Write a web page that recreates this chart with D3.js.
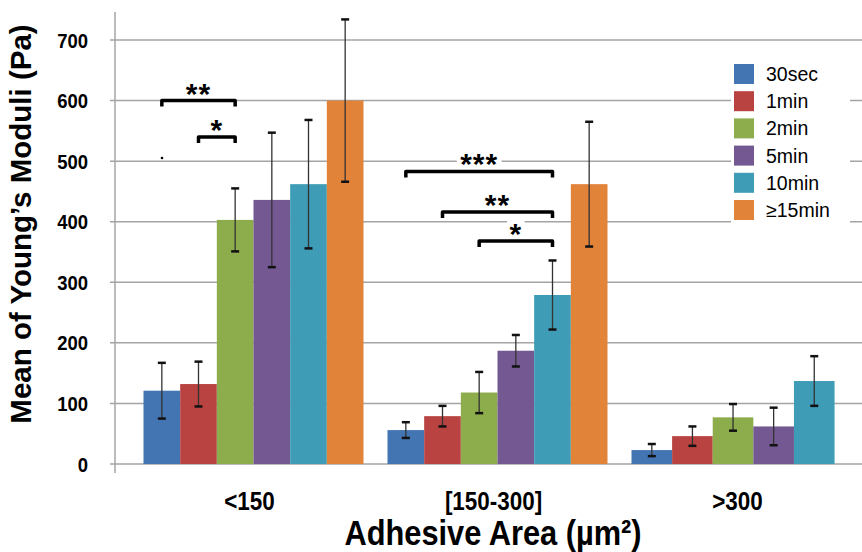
<!DOCTYPE html>
<html>
<head>
<meta charset="utf-8">
<script src="https://cdn.jsdelivr.net/npm/d3@7"></script>
<style>
  body { margin: 0; background: #fff; }
  svg { display: block; font-family: "Liberation Sans", Arial, sans-serif; }
</style>
</head>
<body>
<svg id="chart" width="862" height="552"></svg>
<script>
// categories and series
var groups = ["<150", "[150-300]", ">300"];
var series = ["30sec", "1min", "2min", "5min", "10min", "≥15min"];
var colors = ["#4375b3", "#b84341", "#8dac4b", "#735892", "#3f9cb6", "#e18339"];

// means and error (Pa), one array per adhesive area group
var meansLt150 = [121, 132, 403, 436, 462, 600];
var errLt150 = [46, 37, 52, 111, 106, 134];
var means150to300 = [56, 79, 118, 187, 279, 462];
var err150to300 = [13, 17, 34, 26, 57, 103];
var meansGt300 = [23, 46, 77, 62, 137, null];
var errGt300 = [10, 16, 22, 31, 41, null];

var yTicks = [0, 100, 200, 300, 400, 500, 600, 700];

// significance brackets
var sigGroups = ["<150", "<150", "[150-300]", "[150-300]", "[150-300]"];
var sigFrom = ["30sec", "1min", "30sec", "1min", "2min"];
var sigTo = ["2min", "2min", "10min", "10min", "10min"];
var sigLevel = [600, 540, 483, 416, 368];
var sigLabel = ["**", "*", "***", "**", "*"];

var allMeans = [meansLt150, means150to300, meansGt300];
var allErr = [errLt150, err150to300, errGt300];

var dims = { width: 862, height: 552, left: 115, top: 40, bottom: 464 };
var squish = 0.88;
// share of the group band the bars fill (last cluster has 5 wider bars)
var clusterFill = [1, 1, 0.923];

var svg = d3.select("#chart");

var yScale = d3.scaleLinear().domain([0, 700]).range([dims.bottom, dims.top]);
var x0 = d3.scaleBand().domain(groups).range([131.5, 863.5]).padding(0);

// one inner scale per group, over the series that have a value there
var inner = groups.map(function (g, gi) {
  var present = series.filter(function (s, si) { return allMeans[gi][si] !== null; });
  var w = (x0.bandwidth() - 24) * clusterFill[gi];
  return d3.scaleBand().domain(present).range([12, 12 + w]).padding(0);
});

var dataset = [];
groups.forEach(function (g, gi) {
  series.forEach(function (s, si) {
    if (allMeans[gi][si] !== null) {
      dataset.push({ gi: gi, group: g, series: s, value: allMeans[gi][si], err: allErr[gi][si], color: colors[si] });
    }
  });
});

function barX(gi, s) {
  return x0(groups[gi]) + inner[gi](s);
}
function cx(gi, s) {
  return barX(gi, s) + inner[gi].bandwidth() / 2;
}

// gridlines
svg.append("g")
  .selectAll("line")
  .data(yTicks)
  .enter()
  .append("line")
  .attr("x1", dims.left - 5)
  .attr("x2", dims.width)
  .attr("y1", function (d) { return yScale(d); })
  .attr("y2", function (d) { return yScale(d); })
  .attr("stroke", "#a4a4a4")
  .attr("stroke-width", 1.5);

// y axis line
svg.append("line")
  .attr("x1", dims.left).attr("x2", dims.left)
  .attr("y1", 12).attr("y2", dims.bottom + 9)
  .attr("stroke", "#a4a4a4")
  .attr("stroke-width", 1.5);

// y tick labels
svg.append("g")
  .selectAll("text")
  .data(yTicks)
  .enter()
  .append("text")
  .attr("transform", function (d) {
    return "translate(88," + (yScale(d) + 7.5) + ") scale(" + squish + ",1)";
  })
  .attr("text-anchor", "end")
  .style("font-weight", "bold")
  .style("font-size", "21px")
  .text(function (d) { return d; });

// legend (white box over gridlines)
var legend = svg.append("g");
legend.append("rect")
  .attr("x", 731).attr("y", 56)
  .attr("width", 119).attr("height", 168)
  .attr("fill", "#fff");
var items = legend.selectAll(".item")
  .data(series)
  .enter()
  .append("g")
  .attr("class", "item")
  .attr("transform", function (d, i) { return "translate(734," + (64 + i * 27.2) + ")"; });
items.append("rect")
  .attr("width", 20).attr("height", 20)
  .attr("fill", function (d, i) { return colors[i]; });
items.append("text")
  .attr("x", 32).attr("y", 17)
  .style("font-size", "19.5px")
  .text(function (d) { return d; });

// bars
svg.append("g")
  .selectAll("rect")
  .data(dataset)
  .enter()
  .append("rect")
  .attr("x", function (d) { return barX(d.gi, d.series); })
  .attr("width", function (d) { return inner[d.gi].bandwidth(); })
  .attr("y", function (d) { return yScale(d.value); })
  .attr("height", function (d) { return yScale(0) - yScale(d.value); })
  .attr("fill", function (d) { return d.color; });

// error bars
var eb = svg.append("g").selectAll("g").data(dataset).enter().append("g");
eb.append("line")
  .attr("x1", function (d) { return cx(d.gi, d.series); })
  .attr("x2", function (d) { return cx(d.gi, d.series); })
  .attr("y1", function (d) { return yScale(d.value + d.err); })
  .attr("y2", function (d) { return yScale(d.value - d.err); })
  .attr("stroke", "#333")
  .attr("stroke-width", 1.3);
[1, -1].forEach(function (sign) {
  eb.append("line")
    .attr("x1", function (d) { return cx(d.gi, d.series) - 4; })
    .attr("x2", function (d) { return cx(d.gi, d.series) + 4; })
    .attr("y1", function (d) { return yScale(d.value + sign * d.err); })
    .attr("y2", function (d) { return yScale(d.value + sign * d.err); })
    .attr("stroke", "#111")
    .attr("stroke-width", 2.5);
});

// significance brackets
var sigs = sigLabel.map(function (lab, i) {
  var gi = groups.indexOf(sigGroups[i]);
  return {
    xa: cx(gi, sigFrom[i]),
    xb: cx(gi, sigTo[i]),
    y: yScale(sigLevel[i]),
    label: lab,
  };
});
var sg = svg.append("g").selectAll("g").data(sigs).enter().append("g");
sg.append("path")
  .attr("d", function (d) {
    return "M" + d.xa + "," + (d.y + 6) + "V" + d.y + "H" + d.xb + "V" + (d.y + 6);
  })
  .attr("fill", "none")
  .attr("stroke", "#000")
  .attr("stroke-width", 3.5)
  .attr("stroke-linejoin", "round");
sg.append("rect")
  .attr("x", function (d) { return (d.xa + d.xb) / 2 - d.label.length * 6.8 - 2; })
  .attr("y", function (d) { return d.y - 23; })
  .attr("width", function (d) { return d.label.length * 13.6 + 4; })
  .attr("height", 14)
  .attr("fill", "#fff");
sg.append("text")
  .attr("x", function (d) { return (d.xa + d.xb) / 2; })
  .attr("y", function (d) { return d.y + 3; })
  .attr("text-anchor", "middle")
  .style("font-weight", "bold")
  .style("font-size", "30px")
  .style("letter-spacing", "1px")
  .text(function (d) { return d.label; });

// stray dot in the original figure
svg.append("circle").attr("cx", 162).attr("cy", 158).attr("r", 1.3).attr("fill", "#000");

// x tick labels
svg.append("g")
  .selectAll("text")
  .data(groups)
  .enter()
  .append("text")
  .attr("transform", function (d) {
    return "translate(" + (x0(d) + x0.bandwidth() / 2 - 4) + ",510) scale(" + squish + ",1)";
  })
  .attr("text-anchor", "middle")
  .style("font-weight", "bold")
  .style("font-size", "25.5px")
  .text(function (d) { return d; });

// axis titles
svg.append("text")
  .attr("transform", "translate(493,545) scale(" + squish + ",1)")
  .attr("text-anchor", "middle")
  .style("font-weight", "bold")
  .style("font-size", "35px")
  .text("Adhesive Area (µm²)");

svg.append("text")
  .attr("transform", "translate(31,224) rotate(-90)")
  .attr("text-anchor", "middle")
  .style("font-weight", "bold")
  .style("font-size", "29.5px")
  .text("Mean of Young’s Moduli (Pa)");
</script>
</body>
</html>
